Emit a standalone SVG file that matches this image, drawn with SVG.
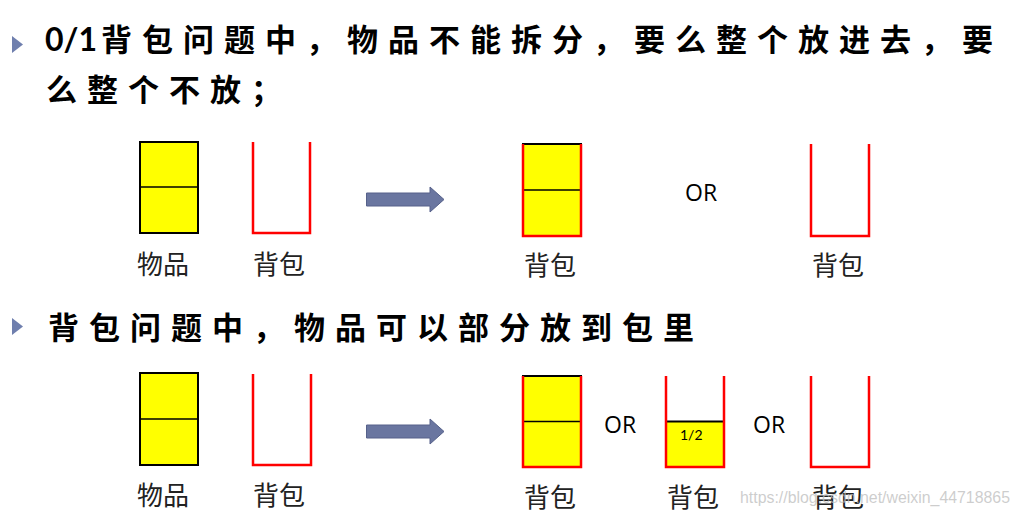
<svg xmlns="http://www.w3.org/2000/svg" width="1020" height="517" viewBox="0 0 1020 517">
<defs>
<style>
.title{font-family:"Noto Sans CJK SC","Noto Sans CJK JP",sans-serif;font-size:31px;font-weight:700;fill:#000;letter-spacing:10px}
.lbl{font-family:"Noto Sans CJK SC","Noto Sans CJK JP",sans-serif;font-size:26px;fill:#222}
.or{font-family:"Open Sans","Liberation Sans",sans-serif;font-size:23px;fill:#000}
.item{fill:#ffff00;stroke:#000;stroke-width:2}
.div{stroke:#000;stroke-width:1.5}
.bag{fill:none;stroke:#ff0000;stroke-width:2.5}
.arrow{fill:#6a76a0;stroke:#56618a;stroke-width:1}
.bullet{fill:#6f7fae}
.wm{font-family:"Liberation Sans",sans-serif;font-size:16px;fill:#bdbdbd;fill-opacity:0.75}
</style>
</defs>
<rect width="1020" height="517" fill="#fff"/>
<g id="heading1">
<polygon class="bullet" points="12,36 23,44.5 12,53"/>
<text x="45" y="51" font-family="Lato,'Open Sans',sans-serif" font-size="32" font-weight="700">0/1</text>
<text class="title" x="101" y="51">背包问题中，物品不能拆分，要么整个放进去，要</text>
<text class="title" x="46" y="101">么整个不放；</text>
</g>
<g id="heading2">
<polygon class="bullet" points="12,318 23,326.5 12,335"/>
<text class="title" x="48" y="339">背包问题中，物品可以部分放到包里</text>
</g>
<g id="row1-item">
<rect class="item" x="140" y="142" width="58" height="91"/>
<line class="div" x1="140" y1="187" x2="198" y2="187"/>
<text class="lbl" x="137" y="274">物品</text>
</g>
<g id="row1-bag">
<polyline class="bag" points="253,142 253,233 310,233 310,142"/>
<text class="lbl" x="253" y="274">背包</text>
</g>
<g id="row1-full">
<rect class="item" x="523" y="144" width="58" height="92"/>
<line class="div" x1="523" y1="190" x2="581" y2="190"/>
<polyline class="bag" points="523,144 523,236 581,236 581,144"/>
<text class="lbl" x="524" y="275">背包</text>
</g>
<text class="or" x="685" y="201">OR</text>
<g id="row1-empty">
<polyline class="bag" points="811,144 811,236 869,236 869,144"/>
<text class="lbl" x="812" y="275">背包</text>
</g>
<g id="row2-item">
<rect class="item" x="140" y="373" width="58" height="92"/>
<line class="div" x1="140" y1="419" x2="198" y2="419"/>
<text class="lbl" x="137" y="505">物品</text>
</g>
<g id="row2-bag">
<polyline class="bag" points="253,374 253,465 311,465 311,374"/>
<text class="lbl" x="253" y="505">背包</text>
</g>
<g id="row2-full">
<rect class="item" x="523" y="376" width="58" height="91"/>
<line class="div" x1="523" y1="421.5" x2="581" y2="421.5"/>
<polyline class="bag" points="523,376 523,467 581,467 581,376"/>
<text class="lbl" x="524" y="507">背包</text>
</g>
<text class="or" x="604" y="433">OR</text>
<g id="row2-half">
<rect class="item" x="666" y="421.5" width="58" height="45.5"/>
<text x="680" y="440" font-family="Lato,'Open Sans',sans-serif" font-size="14" fill="#000">1/2</text>
<polyline class="bag" points="666,376 666,467 724,467 724,376"/>
<text class="lbl" x="667" y="507">背包</text>
</g>
<text class="or" x="753" y="433">OR</text>
<g id="row2-empty">
<polyline class="bag" points="811,376 811,467 869,467 869,376"/>
<text class="lbl" x="812" y="507">背包</text>
</g>
<g id="connectors">
<polygon class="arrow" points="366.5,193 430,193 430,187 444,199.5 430,212 430,206 366.5,206"/>
<polygon class="arrow" points="366.5,425 430,425 430,419 444,431.5 430,444 430,438 366.5,438"/>
</g>
<text class="wm" x="740" y="503" textLength="270" lengthAdjust="spacingAndGlyphs">https://blog.csdn.net/weixin_44718865</text>
</svg>
